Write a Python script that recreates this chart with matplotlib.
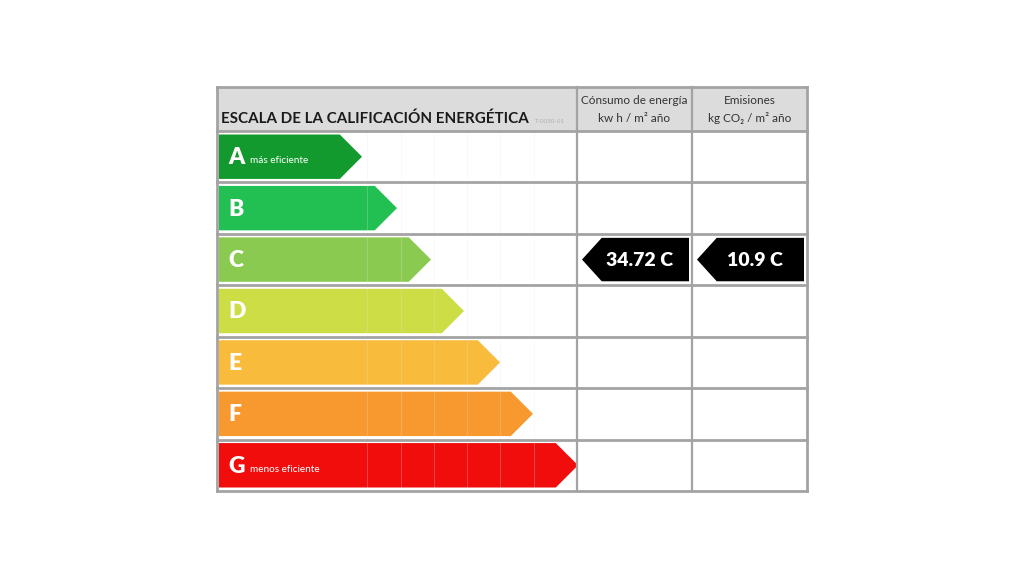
import matplotlib
matplotlib.use("Agg")
import matplotlib.pyplot as plt
from matplotlib.patches import Polygon, Rectangle

plt.rcParams['font.family'] = ['Lato', 'DejaVu Sans']

# Energy classes and their labels
ratings = ['A', 'B', 'C', 'D', 'E', 'F', 'G']
notes = ['más eficiente', '', '', '', '', '', 'menos eficiente']
class_colors = ['#139a2e', '#22c052', '#8bca50', '#cddd45', '#f8bb3c', '#f8992f', '#f20d0d']

# Certified values
energy_value = 34.72
energy_rating = 'C'
emission_value = 10.9
emission_rating = 'C'

title = 'ESCALA DE LA CALIFICACIÓN ENERGÉTICA'
doc_code = 'T-0050-01'
col_headers = [('Cónsumo de energía', 'kw h / m² año'),
               ('Emisiones', 'kg CO₂ / m² año')]

# Layout (pixels)
X0, X1, X2, X3 = 217, 577, 692, 807
Y_TOP, Y_HEAD, Y_BOT = 87, 131, 491
tip_x = [362, 397, 431, 464, 500, 533, 578]
row_h = (Y_BOT - Y_HEAD) / len(ratings)
inset = 3.5
grid_color = '#a3a3a3'

fig = plt.figure(figsize=(10.24, 5.76), dpi=100)
ax = fig.add_axes([0, 0, 1, 1])
ax.set_xlim(0, 1024)
ax.set_ylim(576, 0)
ax.axis('off')

# header band
ax.add_patch(Rectangle((X0, Y_TOP), X3 - X0, Y_HEAD - Y_TOP,
                       facecolor='#dcdcdc', edgecolor='none', zorder=1))

# class arrows
for i, (r, note, c, tx) in enumerate(zip(ratings, notes, class_colors, tip_x)):
    top = Y_HEAD + i * row_h + inset
    bot = Y_HEAD + (i + 1) * row_h - inset
    mid = (top + bot) / 2
    half = (bot - top) / 2
    poly = Polygon([(X0 + 2, top), (tx - half, top), (tx, mid),
                    (tx - half, bot), (X0 + 2, bot)], closed=True,
                   facecolor=c, edgecolor='none', zorder=2)
    ax.add_patch(poly)
    ax.text(X0 + 11, mid + 1, r, color='white', fontsize=16.5,
            fontweight='heavy', ha='left', va='center', zorder=4)
    if note:
        ax.text(X0 + 33, mid + 4, note, color='white', fontsize=7.2,
                ha='left', va='center', zorder=4)

# faint spreadsheet column lines behind the arrows
for gx in [367, 401, 434, 467, 500, 534]:
    ax.plot([gx, gx], [Y_HEAD, Y_BOT], color='#e8e8e8', lw=0.7,
            alpha=0.25, zorder=3)

# table grid
for k in range(len(ratings) + 1):
    y = Y_HEAD + k * row_h
    ax.plot([X0, X3], [y, y], color=grid_color, lw=2.0, zorder=5)
ax.plot([X0, X3], [Y_TOP, Y_TOP], color=grid_color, lw=2.0, zorder=5)
for x in [X0, X3]:
    ax.plot([x, x], [Y_TOP, Y_BOT], color=grid_color, lw=2.0, zorder=5)
for x in [X1, X2]:
    ax.plot([x, x], [Y_TOP, Y_BOT], color=grid_color, lw=1.6, zorder=5)

# headers
ax.text(X0 + 4, 119, title, fontsize=10.9, fontweight='bold',
        color='#1a1a1a', ha='left', va='center', zorder=6)
ax.text(535, 121.5, doc_code, fontsize=4.5, color='#b0b0b0',
        ha='left', va='center', zorder=6)
for (l1, l2), (xa, xb) in zip(col_headers, [(X1, X2), (X2, X3)]):
    xc = (xa + xb) / 2
    ax.text(xc, 101, l1, fontsize=8.5, color='#333333', ha='center', va='center', zorder=6)
    ax.text(xc, 118, l2, fontsize=8.5, color='#333333', ha='center', va='center', zorder=6)


def value_arrow(xa, xb, rating, value):
    i = ratings.index(rating)
    top = Y_HEAD + i * row_h + 4
    bot = Y_HEAD + (i + 1) * row_h - 4
    mid = (top + bot) / 2
    half = (bot - top) / 2
    left = xa + 5
    right = xb - 3
    ax.add_patch(Polygon([(left, mid), (left + half - 2, top), (right, top),
                          (right, bot), (left + half - 2, bot)], closed=True,
                         facecolor='black', edgecolor='none', zorder=6))
    ax.text((left + right) / 2 + 4, mid + 1, f'{value:g} {rating}',
            color='white', fontsize=14, fontweight='heavy',
            ha='center', va='center', zorder=7)


value_arrow(X1, X2, energy_rating, energy_value)
value_arrow(X2, X3, emission_rating, emission_value)

fig.savefig('out.png', dpi=100, facecolor='white')
